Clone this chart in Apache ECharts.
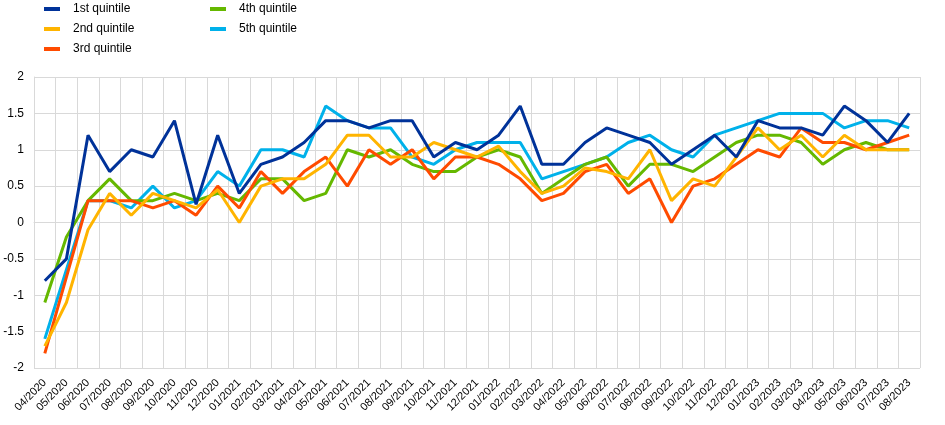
<!DOCTYPE html>
<html><head><meta charset="utf-8">
<script src="https://cdn.jsdelivr.net/npm/echarts@6/dist/echarts.min.js"></script>
<style>html,body{margin:0;padding:0;background:#fff}#c{width:945px;height:425px}</style>
</head><body><div id="c"></div>
<script>
const categories = ["04/2020","05/2020","06/2020","07/2020","08/2020","09/2020","10/2020","11/2020","12/2020",
"01/2021","02/2021","03/2021","04/2021","05/2021","06/2021","07/2021","08/2021","09/2021","10/2021","11/2021","12/2021",
"01/2022","02/2022","03/2022","04/2022","05/2022","06/2022","07/2022","08/2022","09/2022","10/2022","11/2022","12/2022",
"01/2023","02/2023","03/2023","04/2023","05/2023","06/2023","07/2023","08/2023"];
const q1 = [-0.8,-0.5,1.2,0.7,1.0,0.9,1.4,0.25,1.2,0.4,0.8,0.9,1.1,1.4,1.4,1.3,1.4,1.4,0.9,1.1,1.0,1.2,1.6,0.8,0.8,1.1,1.3,1.2,1.1,0.8,1.0,1.2,0.9,1.4,1.3,1.3,1.2,1.6,1.4,1.1,1.5];
const q2 = [-1.7,-1.1,-0.1,0.4,0.1,0.4,0.3,0.2,0.45,0.0,0.5,0.6,0.6,0.8,1.2,1.2,0.9,0.9,1.1,1.0,0.9,1.05,0.7,0.4,0.5,0.75,0.7,0.6,1.0,0.3,0.6,0.5,0.9,1.3,1.0,1.2,0.9,1.2,1.0,1.0,1.0];
const q3 = [-1.8,-0.75,0.3,0.3,0.3,0.2,0.3,0.1,0.5,0.2,0.7,0.4,0.7,0.9,0.5,1.0,0.8,1.0,0.6,0.9,0.9,0.8,0.6,0.3,0.4,0.7,0.8,0.4,0.6,0.0,0.5,0.6,0.8,1.0,0.9,1.3,1.1,1.1,1.0,1.1,1.2];
const q4 = [-1.1,-0.2,0.3,0.6,0.3,0.3,0.4,0.3,0.4,0.3,0.6,0.6,0.3,0.4,1.0,0.9,1.0,0.8,0.7,0.7,0.9,1.0,0.9,0.4,0.6,0.8,0.9,0.5,0.8,0.8,0.7,0.9,1.1,1.2,1.2,1.1,0.8,1.0,1.1,1.0,1.0];
const q5 = [-1.6,-0.65,0.3,0.3,0.2,0.5,0.2,0.3,0.7,0.5,1.0,1.0,0.9,1.6,1.4,1.3,1.3,0.9,0.8,1.0,1.1,1.1,1.1,0.6,0.7,0.8,0.9,1.1,1.2,1.0,0.9,1.2,1.3,1.4,1.5,1.5,1.5,1.3,1.4,1.4,1.3];
const names = ["1st quintile","2nd quintile","3rd quintile","4th quintile","5th quintile"];
const colors = ["#003299","#FFB400","#FF4B00","#65B800","#00B1EA"];
const seriesData = [q1,q2,q3,q4,q5];

const chart = echarts.init(document.getElementById('c'), null, {renderer:'canvas'});
const font = 'Liberation Sans, Arial, sans-serif';
const legendCommon = {
  orient:'vertical', itemWidth:16, itemHeight:4, itemGap:8, icon:'rect', padding:0,
  textStyle:{fontFamily:font, fontSize:12, color:'#000', padding:[0,0,0,8]}
};
chart.setOption({
  animation:false,
  legend:[
    Object.assign({left:44, top:3, data:names.slice(0,3)}, legendCommon),
    Object.assign({left:210, top:3, data:names.slice(3)}, legendCommon)
  ],
  grid:{left:34, right:25, top:77, bottom:57, containLabel:false},
  xAxis:{
    type:'category', data:categories, boundaryGap:true,
    axisLine:{show:true, lineStyle:{color:'#d9d9d9'}},
    axisTick:{show:false},
    splitLine:{show:true, lineStyle:{color:'#d9d9d9', width:1}},
    axisLabel:{interval:0, rotate:45, fontFamily:font, fontSize:11, color:'#000', margin:13}
  },
  yAxis:{
    type:'value', min:-2, max:2, interval:0.5,
    axisLine:{show:true, lineStyle:{color:'#d9d9d9'}},
    axisTick:{show:false},
    splitLine:{show:true, lineStyle:{color:'#d9d9d9', width:1}},
    axisLabel:{fontFamily:font, fontSize:12, color:'#000', margin:10}
  },
  series: seriesData.map((d,i)=>({
    name:names[i], type:'line', data:d, showSymbol:false, symbol:'none',
    lineStyle:{color:colors[i], width:3}, itemStyle:{color:colors[i]}, z: 10-i
  }))
});
</script></body></html>
